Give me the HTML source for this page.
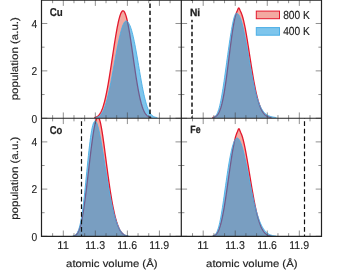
<!DOCTYPE html>
<html><head><meta charset="utf-8"><title>chart</title>
<style>html,body{margin:0;padding:0;background:#fff;}body{width:339px;height:275px;position:relative;overflow:hidden;font-family:"Liberation Sans",sans-serif;}</style>
</head><body>
<div style="will-change:transform;position:absolute;left:0;top:0;width:339px;height:275px">
<svg width="339" height="275" viewBox="0 0 339 275" style="position:absolute;left:0;top:0">
<defs>
<clipPath id="cCu"><rect x="41.50" y="0.10" width="139.80" height="118.15"/></clipPath>
<clipPath id="cNi"><rect x="181.30" y="0.10" width="140.20" height="118.15"/></clipPath>
<clipPath id="cCo"><rect x="41.50" y="118.25" width="139.80" height="118.05"/></clipPath>
<clipPath id="cFe"><rect x="181.30" y="118.25" width="140.20" height="118.05"/></clipPath>
</defs>
<rect width="339" height="275" fill="#fff"/>
<g clip-path="url(#cCu)">
<path d="M94.27,117.54 L94.81,117.44 L95.34,117.31 L95.87,117.14 L96.41,116.93 L96.94,116.66 L97.48,116.33 L98.01,115.93 L98.54,115.45 L99.08,114.87 L99.61,114.20 L100.15,113.41 L100.68,112.50 L101.21,111.45 L101.75,110.27 L102.28,108.95 L102.82,107.47 L103.35,105.83 L103.88,104.04 L104.42,102.08 L104.95,99.97 L105.49,97.69 L106.02,95.26 L106.55,92.68 L107.09,89.95 L107.62,87.08 L108.16,84.09 L108.69,80.98 L109.22,77.77 L109.76,74.47 L110.29,71.08 L110.83,67.64 L111.36,64.14 L111.89,60.61 L112.43,57.07 L112.96,53.53 L113.50,50.01 L114.03,46.53 L114.56,43.10 L115.10,39.75 L115.63,36.49 L116.17,33.35 L116.70,30.33 L117.23,27.46 L117.77,24.76 L118.30,22.25 L118.84,19.93 L119.37,17.85 L119.90,15.99 L120.44,14.40 L120.97,13.08 L121.51,12.04 L122.04,11.30 L122.57,10.88 L123.11,10.78 L123.64,11.01 L124.18,11.58 L124.71,12.46 L125.24,13.66 L125.78,15.15 L126.31,16.94 L126.85,19.00 L127.38,21.31 L127.91,23.86 L128.45,26.63 L128.98,29.60 L129.52,32.75 L130.05,36.05 L130.58,39.49 L131.12,43.03 L131.65,46.65 L132.19,50.34 L132.72,54.07 L133.25,57.81 L133.79,61.54 L134.32,65.25 L134.86,68.91 L135.39,72.50 L135.92,76.00 L136.46,79.40 L136.99,82.68 L137.53,85.83 L138.06,88.83 L138.59,91.68 L139.13,94.38 L139.66,96.90 L140.20,99.26 L140.73,101.44 L141.26,103.45 L141.80,105.29 L142.33,106.97 L142.87,108.48 L143.40,109.83 L143.93,111.04 L144.47,112.10 L145.00,113.04 L145.54,113.85 L146.07,114.55 L146.60,115.15 L147.14,115.66 L147.67,116.08 L148.21,116.44 L148.74,116.73 L149.27,116.97 L149.81,117.16 L150.34,117.31 L150.88,117.43 L151.41,117.53 L151.41,118.25 L94.27,118.25 Z" fill="rgba(225,40,20,0.40)" stroke="none"/>
<path d="M94.27,117.54 L94.81,117.44 L95.34,117.31 L95.87,117.14 L96.41,116.93 L96.94,116.66 L97.48,116.33 L98.01,115.93 L98.54,115.45 L99.08,114.87 L99.61,114.20 L100.15,113.41 L100.68,112.50 L101.21,111.45 L101.75,110.27 L102.28,108.95 L102.82,107.47 L103.35,105.83 L103.88,104.04 L104.42,102.08 L104.95,99.97 L105.49,97.69 L106.02,95.26 L106.55,92.68 L107.09,89.95 L107.62,87.08 L108.16,84.09 L108.69,80.98 L109.22,77.77 L109.76,74.47 L110.29,71.08 L110.83,67.64 L111.36,64.14 L111.89,60.61 L112.43,57.07 L112.96,53.53 L113.50,50.01 L114.03,46.53 L114.56,43.10 L115.10,39.75 L115.63,36.49 L116.17,33.35 L116.70,30.33 L117.23,27.46 L117.77,24.76 L118.30,22.25 L118.84,19.93 L119.37,17.85 L119.90,15.99 L120.44,14.40 L120.97,13.08 L121.51,12.04 L122.04,11.30 L122.57,10.88 L123.11,10.78 L123.64,11.01 L124.18,11.58 L124.71,12.46 L125.24,13.66 L125.78,15.15 L126.31,16.94 L126.85,19.00 L127.38,21.31 L127.91,23.86 L128.45,26.63 L128.98,29.60 L129.52,32.75 L130.05,36.05 L130.58,39.49 L131.12,43.03 L131.65,46.65 L132.19,50.34 L132.72,54.07 L133.25,57.81 L133.79,61.54 L134.32,65.25 L134.86,68.91 L135.39,72.50 L135.92,76.00 L136.46,79.40 L136.99,82.68 L137.53,85.83 L138.06,88.83 L138.59,91.68 L139.13,94.38 L139.66,96.90 L140.20,99.26 L140.73,101.44 L141.26,103.45 L141.80,105.29 L142.33,106.97 L142.87,108.48 L143.40,109.83 L143.93,111.04 L144.47,112.10 L145.00,113.04 L145.54,113.85 L146.07,114.55 L146.60,115.15 L147.14,115.66 L147.67,116.08 L148.21,116.44 L148.74,116.73 L149.27,116.97 L149.81,117.16 L150.34,117.31 L150.88,117.43 L151.41,117.53" fill="none" stroke="#e3182d" stroke-width="1.3" stroke-linejoin="round"/>
<path d="M95.34,117.57 L95.87,117.48 L96.41,117.37 L96.94,117.23 L97.48,117.04 L98.01,116.82 L98.54,116.54 L99.08,116.20 L99.61,115.80 L100.15,115.31 L100.68,114.75 L101.21,114.09 L101.75,113.33 L102.28,112.47 L102.82,111.50 L103.35,110.41 L103.88,109.19 L104.42,107.86 L104.95,106.39 L105.49,104.80 L106.02,103.08 L106.55,101.23 L107.09,99.26 L107.62,97.16 L108.16,94.96 L108.69,92.64 L109.22,90.22 L109.76,87.71 L110.29,85.11 L110.83,82.43 L111.36,79.69 L111.89,76.89 L112.43,74.04 L112.96,71.15 L113.50,68.24 L114.03,65.31 L114.56,62.39 L115.10,59.47 L115.63,56.57 L116.17,53.70 L116.70,50.88 L117.23,48.11 L117.77,45.41 L118.30,42.79 L118.84,40.27 L119.37,37.84 L119.90,35.53 L120.44,33.35 L120.97,31.30 L121.51,29.41 L122.04,27.68 L122.57,26.12 L123.11,24.75 L123.64,23.58 L124.18,22.62 L124.71,21.87 L125.24,21.36 L125.78,21.09 L126.31,21.05 L126.85,21.20 L127.38,21.52 L127.91,22.01 L128.45,22.69 L128.98,23.54 L129.52,24.57 L130.05,25.79 L130.58,27.18 L131.12,28.76 L131.65,30.51 L132.19,32.43 L132.72,34.52 L133.25,36.76 L133.79,39.16 L134.32,41.69 L134.86,44.35 L135.39,47.13 L135.92,50.01 L136.46,52.97 L136.99,56.01 L137.53,59.10 L138.06,62.23 L138.59,65.39 L139.13,68.54 L139.66,71.69 L140.20,74.80 L140.73,77.87 L141.26,80.87 L141.80,83.80 L142.33,86.64 L142.87,89.37 L143.40,91.98 L143.93,94.47 L144.47,96.83 L145.00,99.05 L145.54,101.12 L146.07,103.05 L146.60,104.83 L147.14,106.46 L147.67,107.95 L148.21,109.30 L148.74,110.51 L149.27,111.58 L149.81,112.54 L150.34,113.38 L150.88,114.11 L151.41,114.75 L151.94,115.29 L152.48,115.76 L153.01,116.15 L153.55,116.48 L154.08,116.75 L154.61,116.97 L155.15,117.15 L155.68,117.30 L156.22,117.42 L156.75,117.51 L157.28,117.58 L157.28,118.25 L95.34,118.25 Z" fill="rgba(20,150,220,0.55)" stroke="none"/>
<path d="M95.34,117.57 L95.87,117.48 L96.41,117.37 L96.94,117.23 L97.48,117.04 L98.01,116.82 L98.54,116.54 L99.08,116.20 L99.61,115.80 L100.15,115.31 L100.68,114.75 L101.21,114.09 L101.75,113.33 L102.28,112.47 L102.82,111.50 L103.35,110.41 L103.88,109.19 L104.42,107.86 L104.95,106.39 L105.49,104.80 L106.02,103.08 L106.55,101.23 L107.09,99.26 L107.62,97.16 L108.16,94.96 L108.69,92.64 L109.22,90.22 L109.76,87.71 L110.29,85.11 L110.83,82.43 L111.36,79.69 L111.89,76.89 L112.43,74.04 L112.96,71.15 L113.50,68.24 L114.03,65.31 L114.56,62.39 L115.10,59.47 L115.63,56.57 L116.17,53.70 L116.70,50.88 L117.23,48.11 L117.77,45.41 L118.30,42.79 L118.84,40.27 L119.37,37.84 L119.90,35.53 L120.44,33.35 L120.97,31.30 L121.51,29.41 L122.04,27.68 L122.57,26.12 L123.11,24.75 L123.64,23.58 L124.18,22.62 L124.71,21.87 L125.24,21.36 L125.78,21.09 L126.31,21.05 L126.85,21.20 L127.38,21.52 L127.91,22.01 L128.45,22.69 L128.98,23.54 L129.52,24.57 L130.05,25.79 L130.58,27.18 L131.12,28.76 L131.65,30.51 L132.19,32.43 L132.72,34.52 L133.25,36.76 L133.79,39.16 L134.32,41.69 L134.86,44.35 L135.39,47.13 L135.92,50.01 L136.46,52.97 L136.99,56.01 L137.53,59.10 L138.06,62.23 L138.59,65.39 L139.13,68.54 L139.66,71.69 L140.20,74.80 L140.73,77.87 L141.26,80.87 L141.80,83.80 L142.33,86.64 L142.87,89.37 L143.40,91.98 L143.93,94.47 L144.47,96.83 L145.00,99.05 L145.54,101.12 L146.07,103.05 L146.60,104.83 L147.14,106.46 L147.67,107.95 L148.21,109.30 L148.74,110.51 L149.27,111.58 L149.81,112.54 L150.34,113.38 L150.88,114.11 L151.41,114.75 L151.94,115.29 L152.48,115.76 L153.01,116.15 L153.55,116.48 L154.08,116.75 L154.61,116.97 L155.15,117.15 L155.68,117.30 L156.22,117.42 L156.75,117.51 L157.28,117.58" fill="none" stroke="#4aaee6" stroke-width="1" stroke-linejoin="round" stroke-opacity="0.9"/>
<line x1="150.00" y1="-3.440" x2="150.00" y2="118.25" stroke="#111" stroke-width="1.5" stroke-dasharray="4.4,2.66"/>
</g>
<g clip-path="url(#cNi)">
<path d="M212.28,117.58 L212.81,117.50 L213.35,117.39 L213.88,117.25 L214.41,117.08 L214.95,116.85 L215.48,116.57 L216.02,116.22 L216.55,115.79 L217.08,115.27 L217.62,114.64 L218.15,113.89 L218.69,113.00 L219.22,111.96 L219.75,110.74 L220.29,109.35 L220.82,107.75 L221.36,105.95 L221.89,103.93 L222.42,101.68 L222.96,99.20 L223.49,96.49 L224.03,93.54 L224.56,90.37 L225.09,86.99 L225.63,83.41 L226.16,79.64 L226.70,75.72 L227.23,71.66 L227.76,67.49 L228.30,63.25 L228.83,58.97 L229.37,54.68 L229.90,50.42 L230.43,46.22 L230.97,42.12 L231.50,38.16 L232.04,34.36 L232.57,30.77 L233.10,27.40 L233.64,24.28 L234.17,21.44 L234.71,18.89 L235.24,16.65 L235.77,14.72 L236.31,13.11 L236.84,11.77 L237.38,10.51 L237.91,9.16 L238.44,8.03 L238.98,7.96 L239.51,8.99 L240.05,10.30 L240.58,11.46 L241.11,12.59 L241.65,13.90 L242.18,15.44 L242.72,17.22 L243.25,19.22 L243.78,21.44 L244.32,23.86 L244.85,26.46 L245.39,29.23 L245.92,32.15 L246.45,35.21 L246.99,38.39 L247.52,41.66 L248.06,45.00 L248.59,48.41 L249.12,51.85 L249.66,55.31 L250.19,58.76 L250.73,62.20 L251.26,65.60 L251.79,68.95 L252.33,72.23 L252.86,75.43 L253.40,78.54 L253.93,81.54 L254.46,84.42 L255.00,87.18 L255.53,89.81 L256.07,92.30 L256.60,94.66 L257.13,96.87 L257.67,98.95 L258.20,100.88 L258.74,102.67 L259.27,104.32 L259.80,105.84 L260.34,107.23 L260.87,108.50 L261.41,109.65 L261.94,110.68 L262.47,111.62 L263.01,112.45 L263.54,113.19 L264.08,113.84 L264.61,114.42 L265.14,114.93 L265.68,115.37 L266.21,115.75 L266.75,116.08 L267.28,116.37 L267.81,116.61 L268.35,116.82 L268.88,116.99 L269.42,117.14 L269.95,117.26 L270.48,117.37 L271.02,117.45 L271.55,117.52 L271.55,118.25 L212.28,118.25 Z" fill="rgba(225,40,20,0.40)" stroke="none"/>
<path d="M212.28,117.58 L212.81,117.50 L213.35,117.39 L213.88,117.25 L214.41,117.08 L214.95,116.85 L215.48,116.57 L216.02,116.22 L216.55,115.79 L217.08,115.27 L217.62,114.64 L218.15,113.89 L218.69,113.00 L219.22,111.96 L219.75,110.74 L220.29,109.35 L220.82,107.75 L221.36,105.95 L221.89,103.93 L222.42,101.68 L222.96,99.20 L223.49,96.49 L224.03,93.54 L224.56,90.37 L225.09,86.99 L225.63,83.41 L226.16,79.64 L226.70,75.72 L227.23,71.66 L227.76,67.49 L228.30,63.25 L228.83,58.97 L229.37,54.68 L229.90,50.42 L230.43,46.22 L230.97,42.12 L231.50,38.16 L232.04,34.36 L232.57,30.77 L233.10,27.40 L233.64,24.28 L234.17,21.44 L234.71,18.89 L235.24,16.65 L235.77,14.72 L236.31,13.11 L236.84,11.77 L237.38,10.51 L237.91,9.16 L238.44,8.03 L238.98,7.96 L239.51,8.99 L240.05,10.30 L240.58,11.46 L241.11,12.59 L241.65,13.90 L242.18,15.44 L242.72,17.22 L243.25,19.22 L243.78,21.44 L244.32,23.86 L244.85,26.46 L245.39,29.23 L245.92,32.15 L246.45,35.21 L246.99,38.39 L247.52,41.66 L248.06,45.00 L248.59,48.41 L249.12,51.85 L249.66,55.31 L250.19,58.76 L250.73,62.20 L251.26,65.60 L251.79,68.95 L252.33,72.23 L252.86,75.43 L253.40,78.54 L253.93,81.54 L254.46,84.42 L255.00,87.18 L255.53,89.81 L256.07,92.30 L256.60,94.66 L257.13,96.87 L257.67,98.95 L258.20,100.88 L258.74,102.67 L259.27,104.32 L259.80,105.84 L260.34,107.23 L260.87,108.50 L261.41,109.65 L261.94,110.68 L262.47,111.62 L263.01,112.45 L263.54,113.19 L264.08,113.84 L264.61,114.42 L265.14,114.93 L265.68,115.37 L266.21,115.75 L266.75,116.08 L267.28,116.37 L267.81,116.61 L268.35,116.82 L268.88,116.99 L269.42,117.14 L269.95,117.26 L270.48,117.37 L271.02,117.45 L271.55,117.52" fill="none" stroke="#e3182d" stroke-width="1.3" stroke-linejoin="round"/>
<path d="M212.81,117.55 L213.35,117.41 L213.88,117.21 L214.41,116.93 L214.95,116.55 L215.48,116.06 L216.02,115.42 L216.55,114.63 L217.08,113.65 L217.62,112.47 L218.15,111.08 L218.69,109.47 L219.22,107.62 L219.75,105.54 L220.29,103.23 L220.82,100.69 L221.36,97.93 L221.89,94.97 L222.42,91.81 L222.96,88.49 L223.49,85.02 L224.03,81.42 L224.56,77.71 L225.09,73.91 L225.63,70.05 L226.16,66.15 L226.70,62.24 L227.23,58.32 L227.76,54.43 L228.30,50.58 L228.83,46.79 L229.37,43.08 L229.90,39.49 L230.43,36.01 L230.97,32.69 L231.50,29.53 L232.04,26.57 L232.57,23.83 L233.10,21.33 L233.64,19.11 L234.17,17.20 L234.71,15.63 L235.24,14.42 L235.77,13.63 L236.31,13.27 L236.84,13.30 L237.38,13.52 L237.91,13.93 L238.44,14.52 L238.98,15.31 L239.51,16.29 L240.05,17.45 L240.58,18.81 L241.11,20.36 L241.65,22.09 L242.18,23.99 L242.72,26.06 L243.25,28.29 L243.78,30.66 L244.32,33.17 L244.85,35.80 L245.39,38.53 L245.92,41.36 L246.45,44.27 L246.99,47.24 L247.52,50.26 L248.06,53.31 L248.59,56.37 L249.12,59.43 L249.66,62.48 L250.19,65.50 L250.73,68.47 L251.26,71.40 L251.79,74.25 L252.33,77.03 L252.86,79.73 L253.40,82.33 L253.93,84.84 L254.46,87.24 L255.00,89.53 L255.53,91.71 L256.07,93.78 L256.60,95.73 L257.13,97.57 L257.67,99.29 L258.20,100.90 L258.74,102.41 L259.27,103.81 L259.80,105.10 L260.34,106.30 L260.87,107.40 L261.41,108.42 L261.94,109.34 L262.47,110.19 L263.01,110.97 L263.54,111.67 L264.08,112.31 L264.61,112.89 L265.14,113.41 L265.68,113.88 L266.21,114.31 L266.75,114.69 L267.28,115.03 L267.81,115.34 L268.35,115.61 L268.88,115.86 L269.42,116.07 L269.95,116.27 L270.48,116.44 L271.02,116.59 L271.55,116.73 L272.09,116.85 L272.62,116.96 L273.15,117.08 L273.69,117.18 L274.22,117.27 L274.76,117.35 L275.29,117.42 L275.82,117.47 L276.36,117.52 L276.36,118.25 L212.81,118.25 Z" fill="rgba(20,150,220,0.55)" stroke="none"/>
<path d="M212.81,117.55 L213.35,117.41 L213.88,117.21 L214.41,116.93 L214.95,116.55 L215.48,116.06 L216.02,115.42 L216.55,114.63 L217.08,113.65 L217.62,112.47 L218.15,111.08 L218.69,109.47 L219.22,107.62 L219.75,105.54 L220.29,103.23 L220.82,100.69 L221.36,97.93 L221.89,94.97 L222.42,91.81 L222.96,88.49 L223.49,85.02 L224.03,81.42 L224.56,77.71 L225.09,73.91 L225.63,70.05 L226.16,66.15 L226.70,62.24 L227.23,58.32 L227.76,54.43 L228.30,50.58 L228.83,46.79 L229.37,43.08 L229.90,39.49 L230.43,36.01 L230.97,32.69 L231.50,29.53 L232.04,26.57 L232.57,23.83 L233.10,21.33 L233.64,19.11 L234.17,17.20 L234.71,15.63 L235.24,14.42 L235.77,13.63 L236.31,13.27 L236.84,13.30 L237.38,13.52 L237.91,13.93 L238.44,14.52 L238.98,15.31 L239.51,16.29 L240.05,17.45 L240.58,18.81 L241.11,20.36 L241.65,22.09 L242.18,23.99 L242.72,26.06 L243.25,28.29 L243.78,30.66 L244.32,33.17 L244.85,35.80 L245.39,38.53 L245.92,41.36 L246.45,44.27 L246.99,47.24 L247.52,50.26 L248.06,53.31 L248.59,56.37 L249.12,59.43 L249.66,62.48 L250.19,65.50 L250.73,68.47 L251.26,71.40 L251.79,74.25 L252.33,77.03 L252.86,79.73 L253.40,82.33 L253.93,84.84 L254.46,87.24 L255.00,89.53 L255.53,91.71 L256.07,93.78 L256.60,95.73 L257.13,97.57 L257.67,99.29 L258.20,100.90 L258.74,102.41 L259.27,103.81 L259.80,105.10 L260.34,106.30 L260.87,107.40 L261.41,108.42 L261.94,109.34 L262.47,110.19 L263.01,110.97 L263.54,111.67 L264.08,112.31 L264.61,112.89 L265.14,113.41 L265.68,113.88 L266.21,114.31 L266.75,114.69 L267.28,115.03 L267.81,115.34 L268.35,115.61 L268.88,115.86 L269.42,116.07 L269.95,116.27 L270.48,116.44 L271.02,116.59 L271.55,116.73 L272.09,116.85 L272.62,116.96 L273.15,117.08 L273.69,117.18 L274.22,117.27 L274.76,117.35 L275.29,117.42 L275.82,117.47 L276.36,117.52" fill="none" stroke="#4aaee6" stroke-width="1" stroke-linejoin="round" stroke-opacity="0.9"/>
<line x1="192.00" y1="-3.440" x2="192.00" y2="118.25" stroke="#111" stroke-width="1.5" stroke-dasharray="4.4,2.66"/>
</g>
<g clip-path="url(#cCo)">
<path d="M73.45,236.05 L73.98,235.93 L74.51,235.76 L75.05,235.52 L75.58,235.22 L76.12,234.81 L76.65,234.30 L77.18,233.66 L77.72,232.86 L78.25,231.90 L78.79,230.74 L79.32,229.38 L79.85,227.79 L80.39,225.97 L80.92,223.90 L81.46,221.58 L81.99,219.00 L82.52,216.17 L83.06,213.09 L83.59,209.77 L84.13,206.23 L84.66,202.46 L85.19,198.51 L85.73,194.38 L86.26,190.10 L86.80,185.70 L87.33,181.20 L87.86,176.64 L88.40,172.03 L88.93,167.42 L89.47,162.84 L90.00,158.30 L90.53,153.86 L91.07,149.53 L91.60,145.34 L92.14,141.34 L92.67,137.54 L93.20,133.98 L93.74,130.68 L94.27,127.68 L94.81,125.00 L95.34,122.68 L95.87,120.72 L96.41,119.17 L96.94,118.04 L97.48,117.35 L98.01,117.12 L98.54,117.43 L99.08,118.30 L99.61,119.69 L100.15,121.56 L100.68,123.86 L101.21,126.53 L101.75,129.54 L102.28,132.83 L102.82,136.35 L103.35,140.07 L103.88,143.93 L104.42,147.91 L104.95,151.97 L105.49,156.07 L106.02,160.18 L106.55,164.28 L107.09,168.35 L107.62,172.37 L108.16,176.31 L108.69,180.16 L109.22,183.91 L109.76,187.54 L110.29,191.06 L110.83,194.44 L111.36,197.69 L111.89,200.79 L112.43,203.75 L112.96,206.55 L113.50,209.21 L114.03,211.72 L114.56,214.08 L115.10,216.29 L115.63,218.36 L116.17,220.27 L116.70,222.05 L117.23,223.69 L117.77,225.19 L118.30,226.57 L118.84,227.82 L119.37,228.95 L119.90,229.97 L120.44,230.88 L120.97,231.69 L121.51,232.41 L122.04,233.04 L122.57,233.59 L123.11,234.06 L123.64,234.47 L124.18,234.81 L124.71,235.11 L125.24,235.35 L125.78,235.55 L126.31,235.72 L126.85,235.85 L127.38,235.96 L127.91,236.04 L127.91,236.30 L73.45,236.30 Z" fill="rgba(225,40,20,0.40)" stroke="none"/>
<path d="M73.45,236.05 L73.98,235.93 L74.51,235.76 L75.05,235.52 L75.58,235.22 L76.12,234.81 L76.65,234.30 L77.18,233.66 L77.72,232.86 L78.25,231.90 L78.79,230.74 L79.32,229.38 L79.85,227.79 L80.39,225.97 L80.92,223.90 L81.46,221.58 L81.99,219.00 L82.52,216.17 L83.06,213.09 L83.59,209.77 L84.13,206.23 L84.66,202.46 L85.19,198.51 L85.73,194.38 L86.26,190.10 L86.80,185.70 L87.33,181.20 L87.86,176.64 L88.40,172.03 L88.93,167.42 L89.47,162.84 L90.00,158.30 L90.53,153.86 L91.07,149.53 L91.60,145.34 L92.14,141.34 L92.67,137.54 L93.20,133.98 L93.74,130.68 L94.27,127.68 L94.81,125.00 L95.34,122.68 L95.87,120.72 L96.41,119.17 L96.94,118.04 L97.48,117.35 L98.01,117.12 L98.54,117.43 L99.08,118.30 L99.61,119.69 L100.15,121.56 L100.68,123.86 L101.21,126.53 L101.75,129.54 L102.28,132.83 L102.82,136.35 L103.35,140.07 L103.88,143.93 L104.42,147.91 L104.95,151.97 L105.49,156.07 L106.02,160.18 L106.55,164.28 L107.09,168.35 L107.62,172.37 L108.16,176.31 L108.69,180.16 L109.22,183.91 L109.76,187.54 L110.29,191.06 L110.83,194.44 L111.36,197.69 L111.89,200.79 L112.43,203.75 L112.96,206.55 L113.50,209.21 L114.03,211.72 L114.56,214.08 L115.10,216.29 L115.63,218.36 L116.17,220.27 L116.70,222.05 L117.23,223.69 L117.77,225.19 L118.30,226.57 L118.84,227.82 L119.37,228.95 L119.90,229.97 L120.44,230.88 L120.97,231.69 L121.51,232.41 L122.04,233.04 L122.57,233.59 L123.11,234.06 L123.64,234.47 L124.18,234.81 L124.71,235.11 L125.24,235.35 L125.78,235.55 L126.31,235.72 L126.85,235.85 L127.38,235.96 L127.91,236.04" fill="none" stroke="#e3182d" stroke-width="1.3" stroke-linejoin="round"/>
<path d="M72.38,236.10 L72.91,236.01 L73.45,235.88 L73.98,235.71 L74.51,235.49 L75.05,235.19 L75.58,234.80 L76.12,234.30 L76.65,233.66 L77.18,232.87 L77.72,231.89 L78.25,230.69 L78.79,229.26 L79.32,227.55 L79.85,225.55 L80.39,223.24 L80.92,220.59 L81.46,217.59 L81.99,214.25 L82.52,210.55 L83.06,206.52 L83.59,202.16 L84.13,197.51 L84.66,192.61 L85.19,187.50 L85.73,182.22 L86.26,176.84 L86.80,171.42 L87.33,166.02 L87.86,160.70 L88.40,155.53 L88.93,150.57 L89.47,145.88 L90.00,141.50 L90.53,137.48 L91.07,133.87 L91.60,130.68 L92.14,127.94 L92.67,125.67 L93.20,123.86 L93.74,122.52 L94.27,121.64 L94.81,121.19 L95.34,121.17 L95.87,121.57 L96.41,122.35 L96.94,123.50 L97.48,124.97 L98.01,126.76 L98.54,128.82 L99.08,131.12 L99.61,133.64 L100.15,136.35 L100.68,139.22 L101.21,142.23 L101.75,145.35 L102.28,148.56 L102.82,151.84 L103.35,155.17 L103.88,158.53 L104.42,161.91 L104.95,165.28 L105.49,168.64 L106.02,171.98 L106.55,175.28 L107.09,178.53 L107.62,181.72 L108.16,184.85 L108.69,187.91 L109.22,190.89 L109.76,193.79 L110.29,196.60 L110.83,199.31 L111.36,201.93 L111.89,204.45 L112.43,206.87 L112.96,209.19 L113.50,211.40 L114.03,213.50 L114.56,215.49 L115.10,217.38 L115.63,219.16 L116.17,220.83 L116.70,222.39 L117.23,223.85 L117.77,225.20 L118.30,226.45 L118.84,227.61 L119.37,228.66 L119.90,229.63 L120.44,230.50 L120.97,231.29 L121.51,232.00 L122.04,232.63 L122.57,233.19 L123.11,233.69 L123.64,234.12 L124.18,234.49 L124.71,234.82 L125.24,235.09 L125.78,235.32 L126.31,235.52 L126.85,235.68 L127.38,235.82 L127.91,235.92 L128.45,236.01 L128.98,236.08 L128.98,236.30 L72.38,236.30 Z" fill="rgba(20,150,220,0.55)" stroke="none"/>
<path d="M72.38,236.10 L72.91,236.01 L73.45,235.88 L73.98,235.71 L74.51,235.49 L75.05,235.19 L75.58,234.80 L76.12,234.30 L76.65,233.66 L77.18,232.87 L77.72,231.89 L78.25,230.69 L78.79,229.26 L79.32,227.55 L79.85,225.55 L80.39,223.24 L80.92,220.59 L81.46,217.59 L81.99,214.25 L82.52,210.55 L83.06,206.52 L83.59,202.16 L84.13,197.51 L84.66,192.61 L85.19,187.50 L85.73,182.22 L86.26,176.84 L86.80,171.42 L87.33,166.02 L87.86,160.70 L88.40,155.53 L88.93,150.57 L89.47,145.88 L90.00,141.50 L90.53,137.48 L91.07,133.87 L91.60,130.68 L92.14,127.94 L92.67,125.67 L93.20,123.86 L93.74,122.52 L94.27,121.64 L94.81,121.19 L95.34,121.17 L95.87,121.57 L96.41,122.35 L96.94,123.50 L97.48,124.97 L98.01,126.76 L98.54,128.82 L99.08,131.12 L99.61,133.64 L100.15,136.35 L100.68,139.22 L101.21,142.23 L101.75,145.35 L102.28,148.56 L102.82,151.84 L103.35,155.17 L103.88,158.53 L104.42,161.91 L104.95,165.28 L105.49,168.64 L106.02,171.98 L106.55,175.28 L107.09,178.53 L107.62,181.72 L108.16,184.85 L108.69,187.91 L109.22,190.89 L109.76,193.79 L110.29,196.60 L110.83,199.31 L111.36,201.93 L111.89,204.45 L112.43,206.87 L112.96,209.19 L113.50,211.40 L114.03,213.50 L114.56,215.49 L115.10,217.38 L115.63,219.16 L116.17,220.83 L116.70,222.39 L117.23,223.85 L117.77,225.20 L118.30,226.45 L118.84,227.61 L119.37,228.66 L119.90,229.63 L120.44,230.50 L120.97,231.29 L121.51,232.00 L122.04,232.63 L122.57,233.19 L123.11,233.69 L123.64,234.12 L124.18,234.49 L124.71,234.82 L125.24,235.09 L125.78,235.32 L126.31,235.52 L126.85,235.68 L127.38,235.82 L127.91,235.92 L128.45,236.01 L128.98,236.08" fill="none" stroke="#4aaee6" stroke-width="1" stroke-linejoin="round" stroke-opacity="0.9"/>
<line x1="81.50" y1="113.600" x2="81.50" y2="236.30" stroke="#111" stroke-width="1.2" stroke-dasharray="4.8,2.76"/>
</g>
<g clip-path="url(#cFe)">
<path d="M212.81,236.03 L213.35,235.90 L213.88,235.74 L214.41,235.52 L214.95,235.23 L215.48,234.87 L216.02,234.41 L216.55,233.85 L217.08,233.16 L217.62,232.33 L218.15,231.35 L218.69,230.21 L219.22,228.89 L219.75,227.38 L220.29,225.68 L220.82,223.79 L221.36,221.69 L221.89,219.39 L222.42,216.90 L222.96,214.21 L223.49,211.35 L224.03,208.31 L224.56,205.12 L225.09,201.78 L225.63,198.32 L226.16,194.76 L226.70,191.10 L227.23,187.38 L227.76,183.62 L228.30,179.82 L228.83,176.03 L229.37,172.26 L229.90,168.52 L230.43,164.85 L230.97,161.26 L231.50,157.78 L232.04,154.43 L232.57,151.22 L233.10,148.17 L233.64,145.31 L234.17,142.66 L234.71,140.23 L235.24,138.04 L235.77,136.11 L236.31,134.44 L236.84,133.04 L237.38,131.76 L237.91,130.41 L238.44,129.12 L238.98,128.71 L239.51,129.54 L240.05,130.92 L240.58,132.20 L241.11,133.40 L241.65,134.73 L242.18,136.28 L242.72,138.05 L243.25,140.04 L243.78,142.23 L244.32,144.61 L244.85,147.14 L245.39,149.83 L245.92,152.65 L246.45,155.59 L246.99,158.63 L247.52,161.74 L248.06,164.92 L248.59,168.14 L249.12,171.40 L249.66,174.66 L250.19,177.93 L250.73,181.18 L251.26,184.39 L251.79,187.56 L252.33,190.68 L252.86,193.72 L253.40,196.69 L253.93,199.57 L254.46,202.34 L255.00,205.02 L255.53,207.58 L256.07,210.02 L256.60,212.35 L257.13,214.55 L257.67,216.62 L258.20,218.56 L258.74,220.38 L259.27,222.07 L259.80,223.64 L260.34,225.08 L260.87,226.41 L261.41,227.61 L261.94,228.71 L262.47,229.70 L263.01,230.60 L263.54,231.39 L264.08,232.10 L264.61,232.73 L265.14,233.28 L265.68,233.76 L266.21,234.18 L266.75,234.54 L267.28,234.85 L267.81,235.11 L268.35,235.34 L268.88,235.52 L269.42,235.68 L269.95,235.80 L270.48,235.91 L271.02,235.99 L271.55,236.06 L271.55,236.30 L212.81,236.30 Z" fill="rgba(225,40,20,0.40)" stroke="none"/>
<path d="M212.81,236.03 L213.35,235.90 L213.88,235.74 L214.41,235.52 L214.95,235.23 L215.48,234.87 L216.02,234.41 L216.55,233.85 L217.08,233.16 L217.62,232.33 L218.15,231.35 L218.69,230.21 L219.22,228.89 L219.75,227.38 L220.29,225.68 L220.82,223.79 L221.36,221.69 L221.89,219.39 L222.42,216.90 L222.96,214.21 L223.49,211.35 L224.03,208.31 L224.56,205.12 L225.09,201.78 L225.63,198.32 L226.16,194.76 L226.70,191.10 L227.23,187.38 L227.76,183.62 L228.30,179.82 L228.83,176.03 L229.37,172.26 L229.90,168.52 L230.43,164.85 L230.97,161.26 L231.50,157.78 L232.04,154.43 L232.57,151.22 L233.10,148.17 L233.64,145.31 L234.17,142.66 L234.71,140.23 L235.24,138.04 L235.77,136.11 L236.31,134.44 L236.84,133.04 L237.38,131.76 L237.91,130.41 L238.44,129.12 L238.98,128.71 L239.51,129.54 L240.05,130.92 L240.58,132.20 L241.11,133.40 L241.65,134.73 L242.18,136.28 L242.72,138.05 L243.25,140.04 L243.78,142.23 L244.32,144.61 L244.85,147.14 L245.39,149.83 L245.92,152.65 L246.45,155.59 L246.99,158.63 L247.52,161.74 L248.06,164.92 L248.59,168.14 L249.12,171.40 L249.66,174.66 L250.19,177.93 L250.73,181.18 L251.26,184.39 L251.79,187.56 L252.33,190.68 L252.86,193.72 L253.40,196.69 L253.93,199.57 L254.46,202.34 L255.00,205.02 L255.53,207.58 L256.07,210.02 L256.60,212.35 L257.13,214.55 L257.67,216.62 L258.20,218.56 L258.74,220.38 L259.27,222.07 L259.80,223.64 L260.34,225.08 L260.87,226.41 L261.41,227.61 L261.94,228.71 L262.47,229.70 L263.01,230.60 L263.54,231.39 L264.08,232.10 L264.61,232.73 L265.14,233.28 L265.68,233.76 L266.21,234.18 L266.75,234.54 L267.28,234.85 L267.81,235.11 L268.35,235.34 L268.88,235.52 L269.42,235.68 L269.95,235.80 L270.48,235.91 L271.02,235.99 L271.55,236.06" fill="none" stroke="#e3182d" stroke-width="1.3" stroke-linejoin="round"/>
<path d="M212.28,236.09 L212.81,235.97 L213.35,235.79 L213.88,235.55 L214.41,235.22 L214.95,234.78 L215.48,234.20 L216.02,233.47 L216.55,232.57 L217.08,231.46 L217.62,230.14 L218.15,228.58 L218.69,226.79 L219.22,224.74 L219.75,222.44 L220.29,219.90 L220.82,217.13 L221.36,214.14 L221.89,210.96 L222.42,207.59 L222.96,204.09 L223.49,200.46 L224.03,196.74 L224.56,192.97 L225.09,189.17 L225.63,185.36 L226.16,181.59 L226.70,177.88 L227.23,174.24 L227.76,170.71 L228.30,167.30 L228.83,164.02 L229.37,160.91 L229.90,157.96 L230.43,155.18 L230.97,152.60 L231.50,150.21 L232.04,148.03 L232.57,146.05 L233.10,144.28 L233.64,142.73 L234.17,141.39 L234.71,140.27 L235.24,139.38 L235.77,138.71 L236.31,138.26 L236.84,138.03 L237.38,138.03 L237.91,138.25 L238.44,138.68 L238.98,139.31 L239.51,140.14 L240.05,141.16 L240.58,142.38 L241.11,143.77 L241.65,145.33 L242.18,147.04 L242.72,148.91 L243.25,150.91 L243.78,153.04 L244.32,155.28 L244.85,157.63 L245.39,160.06 L245.92,162.57 L246.45,165.14 L246.99,167.76 L247.52,170.42 L248.06,173.10 L248.59,175.81 L249.12,178.51 L249.66,181.21 L250.19,183.89 L250.73,186.55 L251.26,189.16 L251.79,191.74 L252.33,194.26 L252.86,196.73 L253.40,199.13 L253.93,201.46 L254.46,203.71 L255.00,205.88 L255.53,207.98 L256.07,209.98 L256.60,211.90 L257.13,213.73 L257.67,215.47 L258.20,217.12 L258.74,218.68 L259.27,220.15 L259.80,221.54 L260.34,222.84 L260.87,224.05 L261.41,225.18 L261.94,226.23 L262.47,227.21 L263.01,228.11 L263.54,228.94 L264.08,229.70 L264.61,230.41 L265.14,231.05 L265.68,231.63 L266.21,232.16 L266.75,232.64 L267.28,233.07 L267.81,233.46 L268.35,233.81 L268.88,234.13 L269.42,234.41 L269.95,234.66 L270.48,234.88 L271.02,235.07 L271.55,235.24 L272.09,235.39 L272.62,235.53 L273.15,235.64 L273.69,235.74 L274.22,235.83 L274.76,235.90 L275.29,235.96 L275.82,236.02 L276.36,236.06 L276.36,236.30 L212.28,236.30 Z" fill="rgba(20,150,220,0.55)" stroke="none"/>
<path d="M212.28,236.09 L212.81,235.97 L213.35,235.79 L213.88,235.55 L214.41,235.22 L214.95,234.78 L215.48,234.20 L216.02,233.47 L216.55,232.57 L217.08,231.46 L217.62,230.14 L218.15,228.58 L218.69,226.79 L219.22,224.74 L219.75,222.44 L220.29,219.90 L220.82,217.13 L221.36,214.14 L221.89,210.96 L222.42,207.59 L222.96,204.09 L223.49,200.46 L224.03,196.74 L224.56,192.97 L225.09,189.17 L225.63,185.36 L226.16,181.59 L226.70,177.88 L227.23,174.24 L227.76,170.71 L228.30,167.30 L228.83,164.02 L229.37,160.91 L229.90,157.96 L230.43,155.18 L230.97,152.60 L231.50,150.21 L232.04,148.03 L232.57,146.05 L233.10,144.28 L233.64,142.73 L234.17,141.39 L234.71,140.27 L235.24,139.38 L235.77,138.71 L236.31,138.26 L236.84,138.03 L237.38,138.03 L237.91,138.25 L238.44,138.68 L238.98,139.31 L239.51,140.14 L240.05,141.16 L240.58,142.38 L241.11,143.77 L241.65,145.33 L242.18,147.04 L242.72,148.91 L243.25,150.91 L243.78,153.04 L244.32,155.28 L244.85,157.63 L245.39,160.06 L245.92,162.57 L246.45,165.14 L246.99,167.76 L247.52,170.42 L248.06,173.10 L248.59,175.81 L249.12,178.51 L249.66,181.21 L250.19,183.89 L250.73,186.55 L251.26,189.16 L251.79,191.74 L252.33,194.26 L252.86,196.73 L253.40,199.13 L253.93,201.46 L254.46,203.71 L255.00,205.88 L255.53,207.98 L256.07,209.98 L256.60,211.90 L257.13,213.73 L257.67,215.47 L258.20,217.12 L258.74,218.68 L259.27,220.15 L259.80,221.54 L260.34,222.84 L260.87,224.05 L261.41,225.18 L261.94,226.23 L262.47,227.21 L263.01,228.11 L263.54,228.94 L264.08,229.70 L264.61,230.41 L265.14,231.05 L265.68,231.63 L266.21,232.16 L266.75,232.64 L267.28,233.07 L267.81,233.46 L268.35,233.81 L268.88,234.13 L269.42,234.41 L269.95,234.66 L270.48,234.88 L271.02,235.07 L271.55,235.24 L272.09,235.39 L272.62,235.53 L273.15,235.64 L273.69,235.74 L274.22,235.83 L274.76,235.90 L275.29,235.96 L275.82,236.02 L276.36,236.06" fill="none" stroke="#4aaee6" stroke-width="1" stroke-linejoin="round" stroke-opacity="0.9"/>
<line x1="304.50" y1="113.600" x2="304.50" y2="236.30" stroke="#111" stroke-width="1.2" stroke-dasharray="4.8,2.76"/>
</g>
<rect x="188" y="1" width="14" height="18.8" fill="#fff"/>
<path d="M52.62,0.10L52.62,3.20 M63.30,0.10L63.30,5.90 M73.98,0.10L73.98,3.20 M84.66,0.10L84.66,3.20 M95.34,0.10L95.34,5.90 M106.02,0.10L106.02,3.20 M116.70,0.10L116.70,3.20 M127.38,0.10L127.38,5.90 M138.06,0.10L138.06,3.20 M148.74,0.10L148.74,3.20 M159.42,0.10L159.42,5.90 M170.10,0.10L170.10,3.20 M52.62,118.25L52.62,115.15 M52.62,118.25L52.62,121.35 M63.30,118.25L63.30,112.45 M63.30,118.25L63.30,124.05 M73.98,118.25L73.98,115.15 M73.98,118.25L73.98,121.35 M84.66,118.25L84.66,115.15 M84.66,118.25L84.66,121.35 M95.34,118.25L95.34,112.45 M95.34,118.25L95.34,124.05 M106.02,118.25L106.02,115.15 M106.02,118.25L106.02,121.35 M116.70,118.25L116.70,115.15 M116.70,118.25L116.70,121.35 M127.38,118.25L127.38,112.45 M127.38,118.25L127.38,124.05 M138.06,118.25L138.06,115.15 M138.06,118.25L138.06,121.35 M148.74,118.25L148.74,115.15 M148.74,118.25L148.74,121.35 M159.42,118.25L159.42,112.45 M159.42,118.25L159.42,124.05 M170.10,118.25L170.10,115.15 M170.10,118.25L170.10,121.35 M52.62,236.30L52.62,233.20 M63.30,236.30L63.30,230.50 M73.98,236.30L73.98,233.20 M84.66,236.30L84.66,233.20 M95.34,236.30L95.34,230.50 M106.02,236.30L106.02,233.20 M116.70,236.30L116.70,233.20 M127.38,236.30L127.38,230.50 M138.06,236.30L138.06,233.20 M148.74,236.30L148.74,233.20 M159.42,236.30L159.42,230.50 M170.10,236.30L170.10,233.20 M192.52,0.10L192.52,3.20 M203.20,0.10L203.20,5.90 M213.88,0.10L213.88,3.20 M224.56,0.10L224.56,3.20 M235.24,0.10L235.24,5.90 M245.92,0.10L245.92,3.20 M256.60,0.10L256.60,3.20 M267.28,0.10L267.28,5.90 M277.96,0.10L277.96,3.20 M288.64,0.10L288.64,3.20 M299.32,0.10L299.32,5.90 M310.00,0.10L310.00,3.20 M192.52,118.25L192.52,115.15 M192.52,118.25L192.52,121.35 M203.20,118.25L203.20,112.45 M203.20,118.25L203.20,124.05 M213.88,118.25L213.88,115.15 M213.88,118.25L213.88,121.35 M224.56,118.25L224.56,115.15 M224.56,118.25L224.56,121.35 M235.24,118.25L235.24,112.45 M235.24,118.25L235.24,124.05 M245.92,118.25L245.92,115.15 M245.92,118.25L245.92,121.35 M256.60,118.25L256.60,115.15 M256.60,118.25L256.60,121.35 M267.28,118.25L267.28,112.45 M267.28,118.25L267.28,124.05 M277.96,118.25L277.96,115.15 M277.96,118.25L277.96,121.35 M288.64,118.25L288.64,115.15 M288.64,118.25L288.64,121.35 M299.32,118.25L299.32,112.45 M299.32,118.25L299.32,124.05 M310.00,118.25L310.00,115.15 M310.00,118.25L310.00,121.35 M192.52,236.30L192.52,233.20 M203.20,236.30L203.20,230.50 M213.88,236.30L213.88,233.20 M224.56,236.30L224.56,233.20 M235.24,236.30L235.24,230.50 M245.92,236.30L245.92,233.20 M256.60,236.30L256.60,233.20 M267.28,236.30L267.28,230.50 M277.96,236.30L277.96,233.20 M288.64,236.30L288.64,233.20 M299.32,236.30L299.32,230.50 M310.00,236.30L310.00,233.20 M41.50,118.25L47.30,118.25 M41.50,94.56L44.60,94.56 M41.50,70.87L47.30,70.87 M41.50,47.18L44.60,47.18 M41.50,23.49L47.30,23.49 M181.30,118.25L175.50,118.25 M181.30,118.25L187.10,118.25 M181.30,94.56L178.20,94.56 M181.30,94.56L184.40,94.56 M181.30,70.87L175.50,70.87 M181.30,70.87L187.10,70.87 M181.30,47.18L178.20,47.18 M181.30,47.18L184.40,47.18 M181.30,23.49L175.50,23.49 M181.30,23.49L187.10,23.49 M321.50,118.25L315.70,118.25 M321.50,94.56L318.40,94.56 M321.50,70.87L315.70,70.87 M321.50,47.18L318.40,47.18 M321.50,23.49L315.70,23.49 M41.50,236.30L47.30,236.30 M41.50,212.70L44.60,212.70 M41.50,189.10L47.30,189.10 M41.50,165.50L44.60,165.50 M41.50,141.90L47.30,141.90 M181.30,236.30L175.50,236.30 M181.30,236.30L187.10,236.30 M181.30,212.70L178.20,212.70 M181.30,212.70L184.40,212.70 M181.30,189.10L175.50,189.10 M181.30,189.10L187.10,189.10 M181.30,165.50L178.20,165.50 M181.30,165.50L184.40,165.50 M181.30,141.90L175.50,141.90 M181.30,141.90L187.10,141.90 M321.50,236.30L315.70,236.30 M321.50,212.70L318.40,212.70 M321.50,189.10L315.70,189.10 M321.50,165.50L318.40,165.50 M321.50,141.90L315.70,141.90" stroke="#444" stroke-width="0.6" fill="none"/>
<path d="M41.50,0.10L321.50,0.10 M41.50,118.25L321.50,118.25 M41.50,236.30L321.50,236.30 M41.50,0.10L41.50,236.30 M181.30,0.10L181.30,236.30 M321.50,0.10L321.50,236.30" stroke="#222" stroke-width="1.2" fill="none" stroke-linecap="square"/>
<rect x="256.3" y="11.1" width="23.2" height="7.6" fill="rgba(225,40,20,0.40)" stroke="#e3182d" stroke-width="1"/>
<rect x="256.3" y="27.6" width="23.2" height="7.6" fill="rgba(20,150,220,0.55)" stroke="#4aaee6" stroke-width="1"/>
<text x="283.2" y="18.5" font-family="Liberation Sans, sans-serif" text-rendering="geometricPrecision" font-size="11.7" fill="#222" stroke="#222" stroke-width="0.15" text-anchor="start" textLength="26.6" lengthAdjust="spacingAndGlyphs" >800 K</text>
<text x="283.2" y="35.0" font-family="Liberation Sans, sans-serif" text-rendering="geometricPrecision" font-size="11.7" fill="#222" stroke="#222" stroke-width="0.15" text-anchor="start" textLength="26.6" lengthAdjust="spacingAndGlyphs" >400 K</text>
<text x="49.7" y="15.6" font-family="Liberation Sans, sans-serif" text-rendering="geometricPrecision" font-size="11.4" fill="#222" stroke="#222" stroke-width="0.15" text-anchor="start" font-weight="bold" textLength="13.0" lengthAdjust="spacingAndGlyphs" >Cu</text>
<text x="190.0" y="16.4" font-family="Liberation Sans, sans-serif" text-rendering="geometricPrecision" font-size="10.5" fill="#222" stroke="#222" stroke-width="0.3" text-anchor="start" font-weight="bold" textLength="10.2" lengthAdjust="spacingAndGlyphs" >Ni</text>
<text x="49.7" y="133.6" font-family="Liberation Sans, sans-serif" text-rendering="geometricPrecision" font-size="11.4" fill="#222" stroke="#222" stroke-width="0.15" text-anchor="start" font-weight="bold" textLength="12.6" lengthAdjust="spacingAndGlyphs" >Co</text>
<text x="190.3" y="133.2" font-family="Liberation Sans, sans-serif" text-rendering="geometricPrecision" font-size="10.5" fill="#222" stroke="#222" stroke-width="0.25" text-anchor="start" font-weight="bold" textLength="10.2" lengthAdjust="spacingAndGlyphs" >Fe</text>
<text x="37.1" y="122.55" font-family="Liberation Sans, sans-serif" text-rendering="geometricPrecision" font-size="11.5" fill="#222" stroke="#222" stroke-width="0.1" text-anchor="end" textLength="5.7" lengthAdjust="spacingAndGlyphs" >0</text>
<text x="37.1" y="75.17" font-family="Liberation Sans, sans-serif" text-rendering="geometricPrecision" font-size="11.5" fill="#222" stroke="#222" stroke-width="0.1" text-anchor="end" textLength="5.7" lengthAdjust="spacingAndGlyphs" >2</text>
<text x="37.1" y="27.79" font-family="Liberation Sans, sans-serif" text-rendering="geometricPrecision" font-size="11.5" fill="#222" stroke="#222" stroke-width="0.1" text-anchor="end" textLength="5.7" lengthAdjust="spacingAndGlyphs" >4</text>
<text x="37.1" y="240.60" font-family="Liberation Sans, sans-serif" text-rendering="geometricPrecision" font-size="11.5" fill="#222" stroke="#222" stroke-width="0.1" text-anchor="end" textLength="5.7" lengthAdjust="spacingAndGlyphs" >0</text>
<text x="37.1" y="193.40" font-family="Liberation Sans, sans-serif" text-rendering="geometricPrecision" font-size="11.5" fill="#222" stroke="#222" stroke-width="0.1" text-anchor="end" textLength="5.7" lengthAdjust="spacingAndGlyphs" >2</text>
<text x="37.1" y="146.20" font-family="Liberation Sans, sans-serif" text-rendering="geometricPrecision" font-size="11.5" fill="#222" stroke="#222" stroke-width="0.1" text-anchor="end" textLength="5.7" lengthAdjust="spacingAndGlyphs" >4</text>
<text x="63.10" y="248.7" font-family="Liberation Sans, sans-serif" text-rendering="geometricPrecision" font-size="11.4" fill="#222" stroke="#222" stroke-width="0.1" text-anchor="middle" textLength="11.6" lengthAdjust="spacingAndGlyphs" >11</text>
<text x="95.14" y="248.7" font-family="Liberation Sans, sans-serif" text-rendering="geometricPrecision" font-size="11.4" fill="#222" stroke="#222" stroke-width="0.1" text-anchor="middle" textLength="19.8" lengthAdjust="spacingAndGlyphs" >11.3</text>
<text x="127.18" y="248.7" font-family="Liberation Sans, sans-serif" text-rendering="geometricPrecision" font-size="11.4" fill="#222" stroke="#222" stroke-width="0.1" text-anchor="middle" textLength="19.8" lengthAdjust="spacingAndGlyphs" >11.6</text>
<text x="159.22" y="248.7" font-family="Liberation Sans, sans-serif" text-rendering="geometricPrecision" font-size="11.4" fill="#222" stroke="#222" stroke-width="0.1" text-anchor="middle" textLength="19.8" lengthAdjust="spacingAndGlyphs" >11.9</text>
<text x="203.00" y="248.7" font-family="Liberation Sans, sans-serif" text-rendering="geometricPrecision" font-size="11.4" fill="#222" stroke="#222" stroke-width="0.1" text-anchor="middle" textLength="11.6" lengthAdjust="spacingAndGlyphs" >11</text>
<text x="235.04" y="248.7" font-family="Liberation Sans, sans-serif" text-rendering="geometricPrecision" font-size="11.4" fill="#222" stroke="#222" stroke-width="0.1" text-anchor="middle" textLength="19.8" lengthAdjust="spacingAndGlyphs" >11.3</text>
<text x="267.08" y="248.7" font-family="Liberation Sans, sans-serif" text-rendering="geometricPrecision" font-size="11.4" fill="#222" stroke="#222" stroke-width="0.1" text-anchor="middle" textLength="19.8" lengthAdjust="spacingAndGlyphs" >11.6</text>
<text x="299.12" y="248.7" font-family="Liberation Sans, sans-serif" text-rendering="geometricPrecision" font-size="11.4" fill="#222" stroke="#222" stroke-width="0.1" text-anchor="middle" textLength="19.8" lengthAdjust="spacingAndGlyphs" >11.9</text>
<text x="111.80" y="266.8" font-family="Liberation Sans, sans-serif" text-rendering="geometricPrecision" font-size="10.3" fill="#222" stroke="#222" stroke-width="0.16" text-anchor="middle" textLength="91.4" lengthAdjust="spacingAndGlyphs" >atomic volume (Å)</text>
<text x="251.80" y="266.8" font-family="Liberation Sans, sans-serif" text-rendering="geometricPrecision" font-size="10.3" fill="#222" stroke="#222" stroke-width="0.16" text-anchor="middle" textLength="91.4" lengthAdjust="spacingAndGlyphs" >atomic volume (Å)</text>
<text transform="translate(17.9,58.7) rotate(-90)" font-family="Liberation Sans, sans-serif" text-rendering="geometricPrecision" font-size="10.4" fill="#222" stroke="#222" stroke-width="0.16" text-anchor="middle" textLength="83.2" lengthAdjust="spacingAndGlyphs">population (a.u.)</text>
<text transform="translate(17.9,178.2) rotate(-90)" font-family="Liberation Sans, sans-serif" text-rendering="geometricPrecision" font-size="10.4" fill="#222" stroke="#222" stroke-width="0.16" text-anchor="middle" textLength="83.2" lengthAdjust="spacingAndGlyphs">population (a.u.)</text>
</g>
</svg>
</div>
</body></html>
